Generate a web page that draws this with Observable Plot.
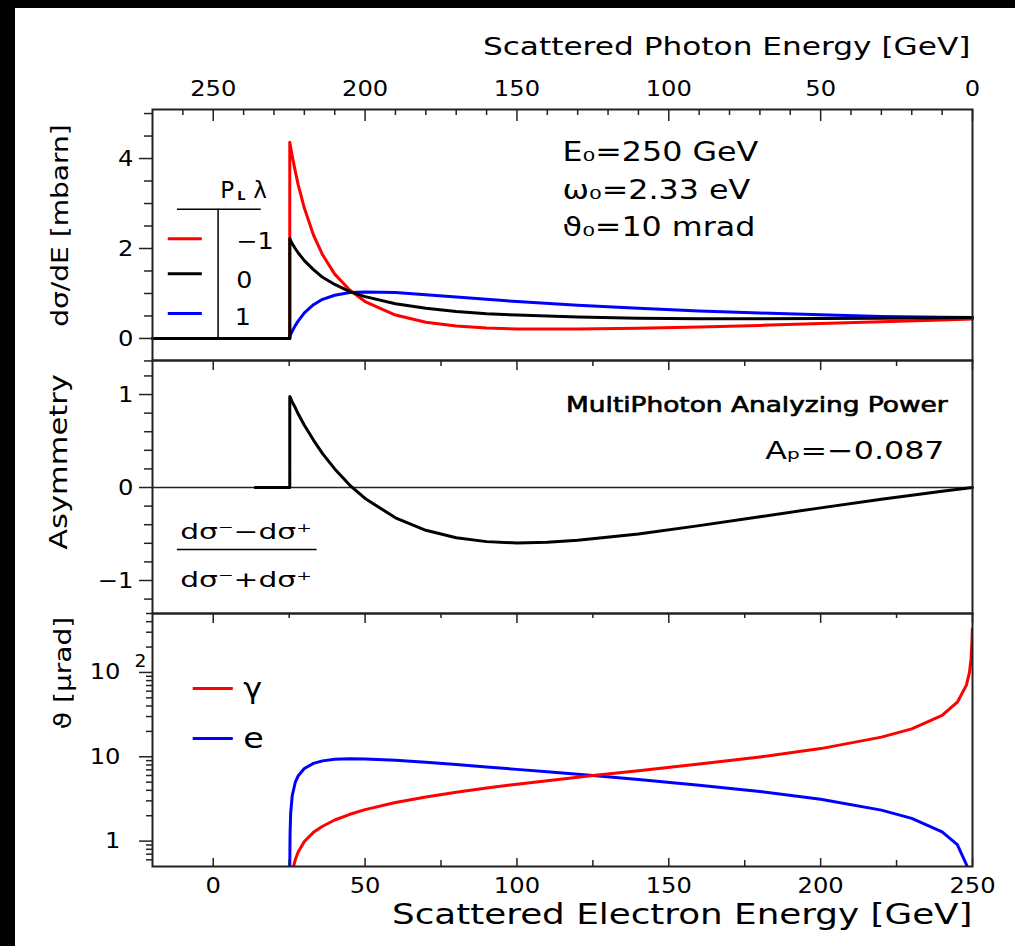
<!DOCTYPE html>
<html><head><meta charset="utf-8">
<script src="https://cdn.jsdelivr.net/npm/d3@7"></script>
<script src="https://cdn.jsdelivr.net/npm/@observablehq/plot@0.6"></script>
<style>
html,body{margin:0;padding:0;background:#fff;}
#page{position:relative;width:1015px;height:946px;background:#fff;overflow:hidden;}
#page .bl{position:absolute;left:0;top:0;width:15px;height:946px;background:#000;}
#page .bt{position:absolute;left:0;top:0;width:1015px;height:8px;background:#000;}
.panel{position:absolute;left:15px;}
.panel svg{overflow:visible;background:transparent;display:block;}
</style>
</head><body><div id="page"><div class="bl"></div><div class="bt"></div></div>
<script>
// ---------------- data ----------------
// Panel 1: dσ/dE [mbarn] vs scattered electron energy [GeV], for P_L·λ = −1, 0, +1
const xsEnergy = [-20, 25.2, 25.2, 25.5, 26, 27, 28, 30, 33, 36, 40, 45, 50, 60, 70, 80, 90, 100, 120, 140, 160, 180, 200, 220, 240, 250];
const xsMinus1 = [0, 0, 4.36, 4.25, 4.06, 3.72, 3.41, 2.90, 2.30, 1.86, 1.43, 1.07, 0.82, 0.52, 0.36, 0.275, 0.23, 0.21, 0.21, 0.225, 0.255, 0.29, 0.33, 0.37, 0.41, 0.43];
const xsZero   = [0, 0, 2.22, 2.17, 2.11, 2.00, 1.90, 1.73, 1.53, 1.36, 1.20, 1.04, 0.93, 0.77, 0.67, 0.60, 0.55, 0.52, 0.475, 0.45, 0.44, 0.44, 0.445, 0.45, 0.46, 0.465];
const xsPlus1  = [0, 0, 0.04, 0.09, 0.16, 0.285, 0.39, 0.57, 0.75, 0.87, 0.96, 1.02, 1.035, 1.02, 0.97, 0.92, 0.87, 0.82, 0.74, 0.67, 0.61, 0.565, 0.525, 0.49, 0.47, 0.465];

// Panel 2: asymmetry (dσ⁻−dσ⁺)/(dσ⁻+dσ⁺)
const asymEnergy = [13.8, 25.2, 25.2, 25.5, 26, 27, 28, 30, 33, 36, 40, 45, 50, 60, 70, 80, 90, 100, 110, 120, 140, 160, 180, 200, 220, 240, 250];
const asymValue  = [0, 0, 0.98, 0.96, 0.92, 0.86, 0.79, 0.67, 0.51, 0.365, 0.20, 0.024, -0.118, -0.326, -0.46, -0.54, -0.582, -0.596, -0.589, -0.568, -0.499, -0.41, -0.314, -0.219, -0.127, -0.041, 0];

// Panel 3: scattering angle ϑ [μrad] (log scale)
const gammaEnergy = [26.45, 27, 28, 30, 33, 36, 40, 45, 50, 60, 70, 80, 90, 100, 110, 125, 140, 160, 180, 200, 220, 230, 240, 245, 248, 249, 249.5, 249.8, 249.95];
const gammaAngle  = [0.5, 0.60, 0.75, 0.99, 1.27, 1.50, 1.78, 2.08, 2.36, 2.87, 3.34, 3.80, 4.26, 4.73, 5.21, 5.98, 6.84, 8.19, 9.96, 12.5, 17.1, 21.4, 31.0, 44.4, 70.7, 100, 142, 224, 330];
const electronEnergy = [25.2, 25.3, 25.5, 26, 27, 28, 30, 33, 36, 40, 45, 50, 60, 70, 80, 90, 100, 110, 125, 140, 160, 180, 200, 220, 230, 240, 245, 248.3];
const electronAngle  = [0.5, 1.25, 2.15, 3.45, 4.96, 5.96, 7.25, 8.34, 8.94, 9.33, 9.48, 9.43, 9.07, 8.59, 8.08, 7.58, 7.09, 6.63, 5.98, 5.37, 4.61, 3.87, 3.13, 2.33, 1.86, 1.29, 0.91, 0.5];

// Tick values / labels
const photonTickLabels = [250, 200, 150, 100, 50, 0];
const photonMinorTicks = [260, 240, 230, 220, 210, 190, 180, 170, 160, 140, 130, 120, 110, 90, 80, 70, 60, 40, 30, 20, 10];
const electronTickLabels = [0, 50, 100, 150, 200, 250];
const electronMinorTicks = [25, 75, 125, 175, 225];
const xsTickLabels = [0, 2, 4];
const xsMinorTicks = [-0.5, 0.5, 1, 1.5, 2.5, 3, 3.5, 4.5, 5];
const asymTickLabels = [-1, 0, 1];
const asymMinorTicks = [-1.2, -0.8, -0.6, -0.4, -0.2, 0.2, 0.4, 0.6, 0.8, 1.2];
const angleTickLabels = [1, 10, 100];
const angleMinorTicks = [0.6, 0.7, 0.8, 0.9, 2, 3, 4, 5, 6, 7, 8, 9, 20, 30, 40, 50, 60, 70, 80, 90, 200, 300, 400, 500];

// Texts
const topTitle = "Scattered Photon Energy [GeV]";
const bottomTitle = "Scattered Electron Energy [GeV]";
const yTitles = ["dσ/dE [mbarn]", "Asymmetry", "ϑ [μrad]"];
const beamLabels = ["E₀=250 GeV", "ω₀=2.33 eV", "ϑ₀=10 mrad"];
const polLabels = ["−1", "0", "1"];
const polColors = ["#ff0000", "#000000", "#0000ff"];
const mpTitle = "MultiPhoton Analyzing Power";
const apLabel = "Aₚ=−0.087";
const fracNum = "dσ⁻−dσ⁺";
const fracDen = "dσ⁻+dσ⁺";
const angleLegend = [{label: "γ", color: "#ff0000"}, {label: "e", color: "#0000ff"}];

// ---------------- layout ----------------
const FONT = "DejaVu Sans, Liberation Sans, sans-serif";
const FRAME = "#222";
const W = 1000, ML = 137, MR = 43, FW = W - ML - MR;
const xDomain = [-20, 250];
const LW = 3;

const STRETCH = new Map([
  [topTitle, 1.3], [bottomTitle, 1.3], [mpTitle, 1.2], [apLabel, 1.27],
  [fracNum, 1.35], [fracDen, 1.35], ["γ", 1.1], ["e", 1.15], ["P", 1.0], ["L", 1.0], ["λ", 1.0]
]);

function topTicks(vals, len, fh, f = d => d) {
  return Plot.tickX(vals, {x: f, insetBottom: fh - len, stroke: FRAME, strokeWidth: 1.5});
}
function bottomTicks(vals, len, fh) {
  return Plot.tickX(vals, {x: d => d, insetTop: fh - len, stroke: FRAME, strokeWidth: 1.5});
}
function leftTicks(vals, len) {
  return Plot.tickY(vals, {y: d => d, insetRight: FW - len, dx: -len, stroke: FRAME, strokeWidth: 1.5});
}
const baseStyle = {background: "transparent", fontFamily: FONT, overflow: "visible", color: "#000"};

// ---------- Panel 1 ----------
const FH1 = 251;
const xsRows = xsEnergy.map((E, i) => ({E, m: xsMinus1[i], z: xsZero[i], p: xsPlus1[i]}));
const legendSwatchY = [2.215, 1.44, 0.555];
const legendLabelY = [2.16, 1.29, 0.47];
const legendLabelX = [13.7, 10.2, 9.7];
const p1 = Plot.plot({
  width: W, height: 352, marginLeft: ML, marginRight: MR, marginTop: 101, marginBottom: 0,
  style: baseStyle,
  x: {domain: xDomain, axis: null},
  y: {domain: [-0.49, 5.09], axis: null},
  marks: [
    Plot.line(xsRows, {x: "E", y: "m", stroke: polColors[0], strokeWidth: LW}),
    Plot.line(xsRows, {x: "E", y: "p", stroke: polColors[2], strokeWidth: LW}),
    Plot.line(xsRows, {x: "E", y: "z", stroke: polColors[1], strokeWidth: LW}),
    Plot.frame({stroke: FRAME, strokeWidth: 2}),
    topTicks(photonMinorTicks, 6, FH1, p => 250 - p),
    topTicks(photonTickLabels, 12, FH1, p => 250 - p),
    leftTicks(xsMinorTicks, 8),
    leftTicks(xsTickLabels, 13),
    Plot.text(photonTickLabels, {x: p => 250 - p, frameAnchor: "top", dy: -21, text: p => String(p), fontSize: 22, lineAnchor: "middle"}),
    Plot.text(xsTickLabels, {y: d => d, frameAnchor: "left", dx: -19, text: d => String(d), fontSize: 22, textAnchor: "end", lineAnchor: "middle"}),
    Plot.text([topTitle], {frameAnchor: "top-right", dx: -2, dy: -62, fontSize: 24, textAnchor: "end", lineAnchor: "middle"}),
    Plot.text([yTitles[0]], {frameAnchor: "left", dx: -92, dy: -9.5, rotate: -90, fontSize: 23, textAnchor: "middle", lineAnchor: "middle"}),
    Plot.text(beamLabels, {x: 115, y: (d, i) => [4.13, 3.29, 2.47][i], text: d => d, fontSize: 26, textAnchor: "start", lineAnchor: "middle"}),
    // legend
    Plot.ruleY([2.87], {x1: -11.8, x2: 15.8, stroke: "#000", strokeWidth: 1.5}),
    Plot.ruleX([1.6], {y1: 0, y2: 2.87, stroke: "#000", strokeWidth: 1.5}),
    Plot.ruleY(polLabels, {y: (d, i) => legendSwatchY[i], x1: -14.8, x2: -3.6, stroke: (d, i) => polColors[i], strokeWidth: LW}),
    Plot.text(polLabels, {x: (d, i) => legendLabelX[i], y: (d, i) => legendLabelY[i], text: d => d, fontSize: 23, lineAnchor: "middle"}),
    Plot.text(["P"], {x: 2.3, y: 3.29, fontSize: 23, textAnchor: "start", lineAnchor: "middle"}),
    Plot.text(["L"], {x: 7.9, y: 3.29, dy: 5, fontSize: 13, fontWeight: "bold", textAnchor: "start", lineAnchor: "middle"}),
    Plot.text(["λ"], {x: 13.2, y: 3.29, fontSize: 23, textAnchor: "start", lineAnchor: "middle"})
  ]
});

// ---------- Panel 2 ----------
const FH2 = 253;
const asymRows = asymEnergy.map((E, i) => ({E, a: asymValue[i]}));
const p2 = Plot.plot({
  width: W, height: FH2, marginLeft: ML, marginRight: MR, marginTop: 0, marginBottom: 0,
  style: baseStyle,
  x: {domain: xDomain, axis: null},
  y: {domain: [-1.355, 1.366], axis: null},
  marks: [
    Plot.ruleY([0], {stroke: FRAME, strokeWidth: 1.3}),
    Plot.line(asymRows, {x: "E", y: "a", stroke: "#000", strokeWidth: LW}),
    Plot.frame({stroke: FRAME, strokeWidth: 2}),
    topTicks(electronMinorTicks, 6, FH2),
    topTicks(electronTickLabels, 10, FH2),
    leftTicks(asymMinorTicks, 8),
    leftTicks(asymTickLabels, 13),
    Plot.text(asymTickLabels, {y: d => d, frameAnchor: "left", dx: -19, text: d => d < 0 ? "−" + Math.abs(d) : String(d), fontSize: 22, textAnchor: "end", lineAnchor: "middle"}),
    Plot.text([yTitles[1]], {frameAnchor: "left", dx: -94, dy: -25, rotate: -90, fontSize: 25, textAnchor: "middle", lineAnchor: "middle"}),
    Plot.text([mpTitle], {x: 241.8, y: 0.89, fontSize: 22, fill: "#000", stroke: "#000", strokeWidth: 0.7, paintOrder: "normal", textAnchor: "end", lineAnchor: "middle"}),
    Plot.text([apLabel], {x: 240.8, y: 0.39, fontSize: 25, textAnchor: "end", lineAnchor: "middle"}),
    Plot.text([fracNum], {x: 10.8, y: -0.475, fontSize: 22, lineAnchor: "middle"}),
    Plot.ruleY([-0.667], {x1: -11.8, x2: 34.2, stroke: "#000", strokeWidth: 1.5}),
    Plot.text([fracDen], {x: 10.8, y: -0.99, fontSize: 22, lineAnchor: "middle"})
  ]
});

// ---------- Panel 3 ----------
const FH3 = 253;
const gammaRows = gammaEnergy.map((E, i) => ({E, t: gammaAngle[i]}));
const elecRows = electronEnergy.map((E, i) => ({E, t: electronAngle[i]}));
const angleLegendY = [64.6, 16.5];
const p3 = Plot.plot({
  width: W, height: FH3 + 80, marginLeft: ML, marginRight: MR, marginTop: 0, marginBottom: 80,
  style: baseStyle,
  x: {domain: xDomain, axis: null},
  y: {type: "log", domain: [0.5, 500], axis: null},
  marks: [
    Plot.line(elecRows, {x: "E", y: "t", stroke: "#0000ff", strokeWidth: LW, clip: true}),
    Plot.line(gammaRows, {x: "E", y: "t", stroke: "#ff0000", strokeWidth: LW, clip: true}),
    Plot.frame({stroke: FRAME, strokeWidth: 2}),
    topTicks(electronMinorTicks, 5, FH3),
    topTicks(electronTickLabels, 10, FH3),
    bottomTicks(electronMinorTicks, 6, FH3),
    bottomTicks(electronTickLabels, 8, FH3),
    leftTicks(angleMinorTicks, 6),
    leftTicks(angleTickLabels, 13),
    Plot.text(angleTickLabels, {y: d => d, frameAnchor: "left", dx: -32, text: d => d === 100 ? "10" : String(d), fontSize: 22, textAnchor: "end", lineAnchor: "middle"}),
    Plot.text(["2"], {y: 100, frameAnchor: "left", dx: -12, dy: -11, fontSize: 17, textAnchor: "middle", lineAnchor: "middle"}),
    Plot.text(electronTickLabels, {x: d => d, frameAnchor: "bottom", dy: 19, text: d => String(d), fontSize: 22, lineAnchor: "middle"}),
    Plot.text([bottomTitle], {frameAnchor: "bottom-right", dx: 0, dy: 49, fontSize: 27.5, textAnchor: "end", lineAnchor: "middle"}),
    Plot.text([yTitles[2]], {frameAnchor: "left", dx: -89, dy: -67, rotate: -90, fontSize: 23, textAnchor: "middle", lineAnchor: "middle"}),
    Plot.ruleY(angleLegend, {y: (d, i) => angleLegendY[i], x1: -6.6, x2: 6.6, stroke: d => d.color, strokeWidth: LW}),
    Plot.text(angleLegend, {x: 9.9, y: (d, i) => angleLegendY[i], text: d => d.label, fontSize: 29, textAnchor: "start", lineAnchor: "middle"})
  ]
});

// ---------- assemble ----------
// the original bitmap font is wider than DejaVu Sans: stretch glyphs horizontally about each text's anchor
function stretchTexts(svg) {
  d3.select(svg).selectAll("text").each(function () {
    const txt = this.textContent;
    const s = STRETCH.has(txt) ? STRETCH.get(txt) : (/^[−\-\d.]+$/.test(txt) ? 1.1 : 1.22);
    if (s === 1) return;
    const t = this.getAttribute("transform") || "";
    this.setAttribute("transform", `${t} scale(${s},1)`);
  });
}
const page = document.getElementById("page");
[[p1, 8], [p2, 360], [p3, 613]].forEach(([svg, top]) => {
  stretchTexts(svg);
  const div = document.createElement("div");
  div.className = "panel";
  div.style.top = top + "px";
  div.appendChild(svg);
  page.appendChild(div);
});
</script>
</body></html>
